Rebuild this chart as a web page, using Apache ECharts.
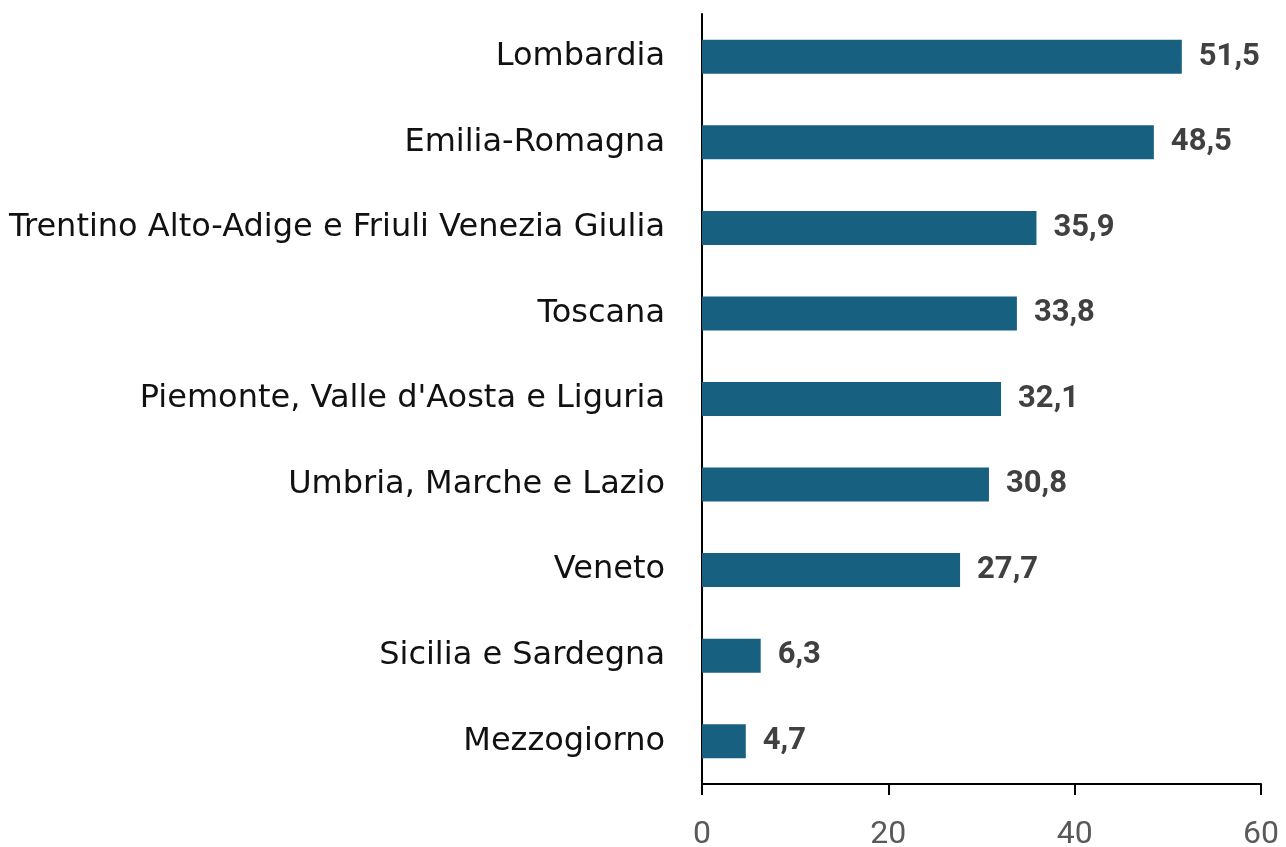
<!DOCTYPE html>
<html>
<head>
<meta charset="utf-8">
<script src="https://cdn.jsdelivr.net/npm/echarts@6/dist/echarts.min.js"></script>
<style>
  html, body { margin: 0; padding: 0; background: #fff; }
  #chart { width: 1286px; height: 847px; }
</style>
</head>
<body>
<div id="chart"></div>
<script>
  // regions, top to bottom
  const regions = [
    'Lombardia',
    'Emilia-Romagna',
    'Trentino Alto-Adige e Friuli Venezia Giulia',
    'Toscana',
    "Piemonte, Valle d'Aosta e Liguria",
    'Umbria, Marche e Lazio',
    'Veneto',
    'Sicilia e Sardegna',
    'Mezzogiorno'
  ]
  const values = [51.5, 48.5, 35.9, 33.8, 32.1, 30.8, 27.7, 6.3, 4.7]
  const xTicks = [0, 20, 40, 60]

  const chart = echarts.init(document.getElementById('chart'))
  chart.setOption({
    animation: false,
    grid: {
      left: 702,
      right: 25,
      top: 14,
      bottom: 63,
      containLabel: false,
      outerBoundsMode: 'none'
    },
    xAxis: {
      type: 'value',
      min: xTicks[0],
      max: xTicks[xTicks.length - 1],
      interval: 20,
      splitLine: { show: false },
      axisLine: { show: true, lineStyle: { color: '#000', width: 2 } },
      axisTick: { show: true, length: 11, lineStyle: { color: '#000', width: 2 } },
      axisLabel: {
        color: '#595959',
        fontSize: 32,
        fontFamily: 'Roboto',
        margin: 35
      }
    },
    yAxis: {
      type: 'category',
      inverse: true,
      data: regions,
      axisLine: { show: true, lineStyle: { color: '#000', width: 2 } },
      axisTick: { show: false },
      axisLabel: {
        color: '#111',
        fontSize: 32,
        fontFamily: 'DejaVu Sans',
        margin: 37
      }
    },
    series: [{
      type: 'bar',
      data: values,
      barWidth: 34,
      itemStyle: { color: '#17607f' },
      label: {
        show: true,
        position: 'right',
        distance: 17,
        color: '#404040',
        fontSize: 31,
        fontWeight: 'bold',
        fontFamily: 'Roboto',
        formatter: p => String(p.value).replace('.', ',')
      }
    }]
  })
</script>
</body>
</html>
